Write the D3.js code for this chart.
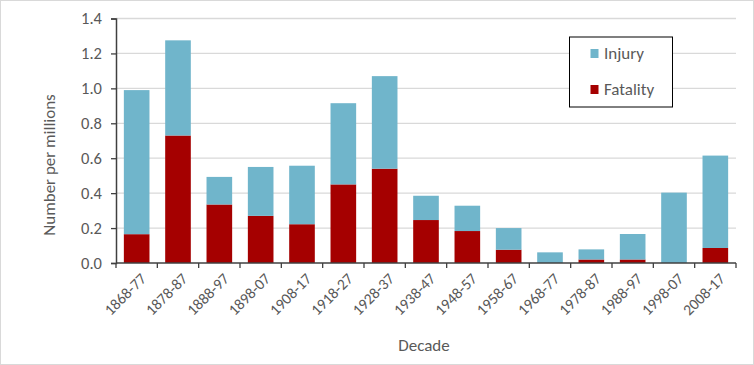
<!DOCTYPE html>
<html><head><meta charset="utf-8">
<script src="https://cdn.jsdelivr.net/npm/d3@7"></script>
<style>body{margin:0;background:#fff}svg{display:block}text{font-family:Carlito,Lato,"Open Sans",sans-serif}</style>
</head><body>
<svg id="c" width="754" height="365"></svg>
<script>
const decades = ["1868-77","1878-87","1888-97","1898-07","1908-17","1918-27","1928-37","1938-47","1948-57","1958-67","1968-77","1978-87","1988-97","1998-07","2008-17"];
const fatality = [0.165,0.73,0.335,0.27,0.222,0.45,0.54,0.246,0.183,0.076,0,0.02,0.02,0,0.086];
const totals   = [0.99,1.275,0.493,0.55,0.557,0.915,1.07,0.385,0.328,0.2,0.061,0.078,0.166,0.403,0.615];
const injury = totals.map((t,i)=>+(t-fatality[i]).toFixed(3));
const yTicks = [0,0.2,0.4,0.6,0.8,1.0,1.2,1.4];
const seriesNames = ["Injury","Fatality"];
const colors = {Injury:"#70b5cb", Fatality:"#a50000"};

const svg = d3.select("#c");
svg.append("rect").attr("x",0.5).attr("y",0.5).attr("width",753).attr("height",364).attr("fill","#fff").attr("stroke","#d9d9d9");

const m = {l:116, r:736, t:18.5, b:263};
const x = d3.scaleBand().domain(decades).range([m.l,m.r]).paddingInner(0.38).paddingOuter(0.19);
const xb = d3.scaleBand().domain(decades).range([m.l,m.r]);
const y = d3.scaleLinear().domain([0,1.4]).range([m.b,m.t]);

// gridlines
svg.append("g").selectAll("line").data(yTicks.slice(1)).join("line")
  .attr("x1",m.l).attr("x2",m.r).attr("y1",d=>y(d)).attr("y2",d=>y(d))
  .attr("stroke","#d9d9d9").attr("stroke-width",1.3);

// stacked bars
const rows = decades.map((d,i)=>({decade:d, Fatality:fatality[i], Injury:injury[i]}));
const stack = d3.stack().keys(["Fatality","Injury"])(rows);
svg.append("g").selectAll("g").data(stack).join("g").attr("fill",s=>colors[s.key])
  .selectAll("rect").data(s=>s).join("rect")
  .attr("x",d=>x(d.data.decade)).attr("width",x.bandwidth())
  .attr("y",d=>y(d[1])).attr("height",d=>Math.max(0,y(d[0])-y(d[1])));

// y axis
const ya = svg.append("g").attr("transform",`translate(${m.l},0)`)
  .call(d3.axisLeft(y).tickValues(yTicks).tickFormat(d3.format(".1f")).tickSize(5).tickPadding(9));
ya.select(".domain").attr("stroke","#404040").attr("stroke-width",1.5);
ya.selectAll(".tick line").attr("stroke","#404040").attr("stroke-width",1.3);
ya.selectAll("text").attr("fill","#595959").attr("font-size",16.5);

// x axis
const xa = svg.append("g").attr("transform",`translate(0,${m.b})`);
xa.append("line").attr("x1",m.l).attr("x2",m.r).attr("stroke","#404040").attr("stroke-width",1.5);
const bounds = decades.map(d=>xb(d)).concat([m.r]);
xa.selectAll("line.t").data(bounds).join("line").attr("class","t")
  .attr("x1",d=>d).attr("x2",d=>d).attr("y1",0).attr("y2",5).attr("stroke","#404040").attr("stroke-width",1.3);
xa.selectAll("text").data(decades).join("text")
  .attr("transform",d=>`translate(${x(d)+x.bandwidth()/2+3},${9}) rotate(-45)`)
  .attr("text-anchor","end").attr("dy","0.7em").attr("fill","#595959").attr("font-size",15.5).text(d=>d);

// axis titles
svg.append("text").attr("transform","translate(55,165) rotate(-90)").attr("text-anchor","middle")
  .attr("fill","#595959").attr("font-size",17).text("Number per millions");
svg.append("text").attr("x",424).attr("y",351).attr("text-anchor","middle")
  .attr("fill","#595959").attr("font-size",17).text("Decade");

// legend
const lg = svg.append("g");
lg.append("rect").attr("x",569.5).attr("y",37).attr("width",103).attr("height",70).attr("fill","#fff").attr("stroke","#000").attr("stroke-width",1);
seriesNames.forEach((s,i)=>{
  const cy = 53 + i*36;
  lg.append("rect").attr("x",590.5).attr("y",cy-4).attr("width",8).attr("height",9).attr("fill",colors[s]);
  lg.append("text").attr("x",604).attr("y",cy).attr("dy","0.35em").attr("fill","#595959").attr("font-size",17).text(s);
});
</script>
</body></html>
